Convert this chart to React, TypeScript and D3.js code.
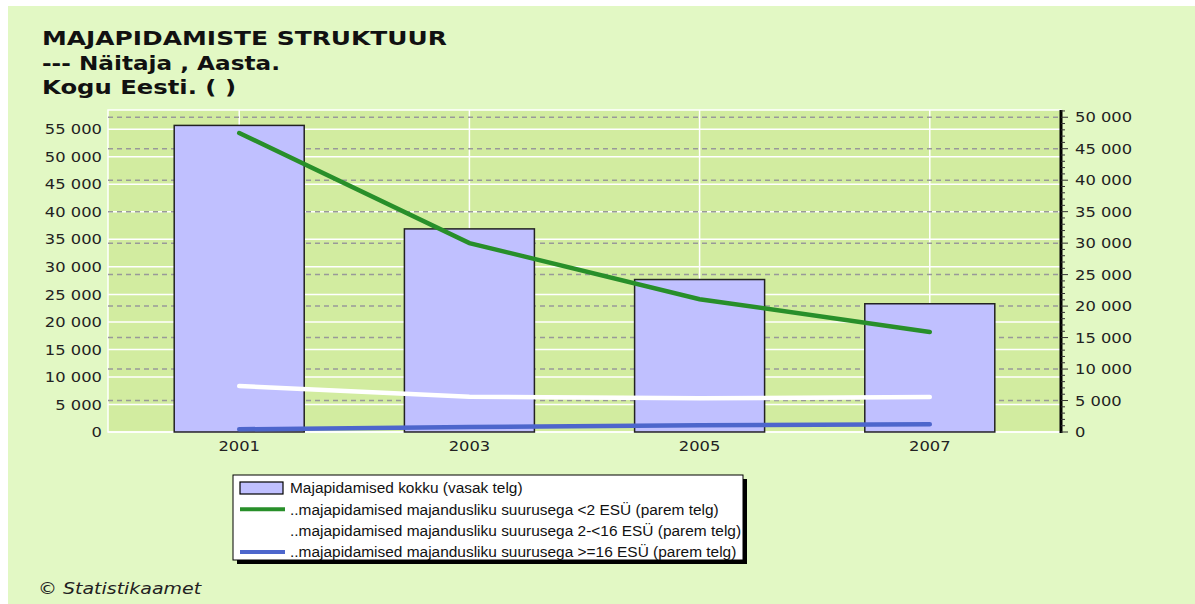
import React from 'react';
import * as d3 from 'd3';

const W = 1195;
const H = 604;

const years = ['2001', '2003', '2005', '2007'];
// left axis (bars)
const totalHouseholds = [55700, 36900, 27700, 23300];
// right axis (lines)
const below2 = [47500, 30000, 21100, 15900];
const from2to16 = [7300, 5600, 5350, 5570];
const above16 = [430, 800, 1070, 1220];

const leftTicks = [0, 5000, 10000, 15000, 20000, 25000, 30000, 35000, 40000, 45000, 50000, 55000];
const rightTicks = [0, 5000, 10000, 15000, 20000, 25000, 30000, 35000, 40000, 45000, 50000];

const titleLines = ['MAJAPIDAMISTE STRUKTUUR', '--- Näitaja , Aasta.', 'Kogu Eesti. ( )'];
const titleWidths = [405, 238, 194];
const legendLabels = [
  'Majapidamised kokku (vasak telg)',
  '..majapidamised majandusliku suurusega <2 ESÜ (parem telg)',
  '..majapidamised majandusliku suurusega 2-<16 ESÜ (parem telg)',
  '..majapidamised majandusliku suurusega >=16 ESÜ (parem telg)',
];

const plot = { left: 108, right: 1061, top: 110, bottom: 432 };
const font = '"DejaVu Sans", Verdana, sans-serif';
const fmt = (v: number) => d3.format(',')(v).replace(/,/g, ' ');
const SX = 1.15; // source text is a bit stretched horizontally

export default function App() {
  const x = d3.scalePoint<string>().domain(years).range([plot.left, plot.right]).padding(0.57);
  const yL = d3.scaleLinear().domain([0, 58500]).range([plot.bottom, plot.top]);
  const yR = d3.scaleLinear().domain([0, 51150]).range([plot.bottom, plot.top]);
  const barW = 130;

  const line = d3.line<number>().x((_, i) => x(years[i])!).y((d) => yR(d));
  const series = [
    { data: below2, color: '#288f2a' },
    { data: from2to16, color: '#ffffff' },
    { data: above16, color: '#4d66cc' },
  ];
  const minor = d3.range(0, 51001, 1000);

  const label = (key: string | number, tx: number, ty: number, txt: string, anchor: string, size = 14.2) => (
    <g key={key} transform={`translate(${tx},${ty}) scale(${SX},1)`}>
      <text dy="0.36em" textAnchor={anchor} fontFamily={font} fontSize={size} fill="#222">
        {txt}
      </text>
    </g>
  );

  return (
    <div style={{ position: 'absolute', left: 0, top: 0 }}>
      <svg width={W} height={H} style={{ display: 'block', background: '#fff' }}>
        <rect x={8} y={6} width={W - 8} height={H - 6} fill="#e2f8c4" />
        {titleLines.map((t, i) => (
          <text key={i} x={42} y={45 + i * 24.5} fontFamily={font} fontWeight="bold" fontSize={20} fill="#111"
            textLength={titleWidths[i]} lengthAdjust="spacingAndGlyphs">
            {t}
          </text>
        ))}
        <rect x={plot.left} y={plot.top} width={plot.right - plot.left} height={plot.bottom - plot.top} fill="#d2eca0" stroke="#fff" strokeWidth={1.5} />
        {years.map((y) => (
          <line key={y} x1={x(y)} x2={x(y)} y1={plot.top} y2={plot.bottom} stroke="#fff" strokeWidth={1.5} />
        ))}
        {leftTicks.map((t) => (
          <line key={t} x1={plot.left} x2={plot.right} y1={yL(t)} y2={yL(t)} stroke="#fff" strokeWidth={1.5} />
        ))}
        {rightTicks.filter((t) => t > 0).map((t) => (
          <line key={t} x1={plot.left} x2={plot.right} y1={yR(t)} y2={yR(t)} stroke="#999" strokeWidth={1.5} strokeDasharray="5,4" />
        ))}
        {years.map((y, i) => (
          <rect key={y} x={x(y)! - barW / 2} y={yL(totalHouseholds[i])} width={barW} height={plot.bottom - yL(totalHouseholds[i])} fill="#c0c0ff" stroke="#222" strokeWidth={1.5} />
        ))}
        {series.map((s, i) => (
          <path key={i} d={line(s.data)!} fill="none" stroke={s.color} strokeWidth={4.5} strokeLinecap="round" />
        ))}
        {/* left axis labels */}
        {leftTicks.map((t) => label('l' + t, 102, yL(t), fmt(t), 'end'))}
        {/* right axis */}
        <line x1={plot.right} x2={plot.right} y1={plot.top} y2={plot.bottom + 1} stroke="#000" strokeWidth={3} />
        {minor.map((t) => (
          <line key={t} x1={plot.right} x2={plot.right + (t % 5000 === 0 ? 7 : 4)} y1={yR(t)} y2={yR(t)} stroke="#333" strokeWidth={1} />
        ))}
        {rightTicks.map((t) => label('r' + t, 1075, yR(t), fmt(t), 'start'))}
        {years.map((y) => label('x' + y, x(y)!, 446, y, 'middle'))}
        {/* legend */}
        <rect x={237} y={479} width={510} height={85} fill="#000" />
        <rect x={233} y={475} width={510} height={85} fill="#fff" stroke="#000" strokeWidth={1} />
        {legendLabels.map((l, i) => {
          const cy = 488 + i * 21.3;
          return (
            <g key={i}>
              {i === 0 ? (
                <rect x={240} y={cy - 6} width={43} height={12} fill="#c0c0ff" stroke="#000" strokeWidth={1.2} />
              ) : (
                <line x1={240} x2={285} y1={cy} y2={cy} stroke={series[i - 1].color} strokeWidth={4} />
              )}
              <g transform={`translate(290,${cy}) scale(1.03,1)`}>
                <text dy="0.36em" fontFamily="Arial, 'Liberation Sans', sans-serif" fontSize={15} fill="#111">
                  {l}
                </text>
              </g>
            </g>
          );
        })}
        <g transform={`translate(38,594) scale(${SX},1)`}>
          <text fontFamily={font} fontStyle="italic" fontSize={16.5} fill="#222">
            © Statistikaamet
          </text>
        </g>
      </svg>
    </div>
  );
}
